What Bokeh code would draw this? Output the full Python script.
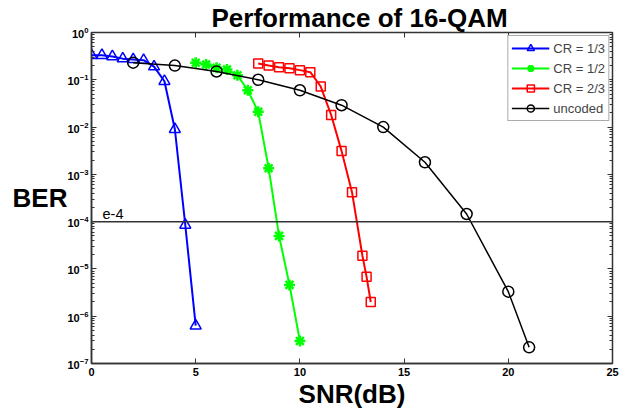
from bokeh.plotting import figure
from bokeh.models import (LinearAxis, LogAxis, Span, Label, Legend, LegendItem,
                          FixedTicker, LogTicker, Range1d, CustomJSTickFormatter)
from bokeh.embed import file_html
from bokeh.resources import INLINE

# ---- data ----
snr_13 = [0, 0.5, 1, 1.5, 2, 2.5, 3, 3.5, 4, 4.5, 5]
ber_13 = [0.33, 0.33, 0.31, 0.28, 0.27, 0.26, 0.19, 0.093, 0.009, 8.5e-5, 6.3e-7]

snr_12 = [5, 5.5, 6, 6.5, 7, 7.5, 8, 8.5, 9, 9.5, 10]
ber_12 = [0.23, 0.21, 0.18, 0.165, 0.125, 0.06, 0.021, 1.35e-3, 5e-5, 4.6e-6, 3e-7]

snr_23 = [8, 8.5, 9, 9.5, 10, 10.5, 11, 11.5, 12, 12.5, 13, 13.2, 13.4]
ber_23 = [0.22, 0.2, 0.185, 0.175, 0.16, 0.145, 0.072, 0.018, 3.1e-3, 4.2e-4, 1.9e-5, 6.8e-6, 2e-6]

snr_unc = [2, 4, 6, 8, 10, 12, 14, 16, 18, 20, 21]
ber_unc = [0.23, 0.2, 0.15, 0.1, 0.06, 0.029, 0.01, 1.8e-3, 1.45e-4, 3.3e-6, 2.2e-7]

x_ticks = [0, 5, 10, 15, 20, 25]
threshold = 1e-4
title_text = "Performance of 16-QAM"

p = figure(width=620, height=411, x_range=Range1d(0, 25), y_range=Range1d(1e-7, 1),
           y_axis_type="log", output_backend="svg", toolbar_location=None,
           min_border_left=91, min_border_right=8, min_border_top=32, min_border_bottom=41)
p.grid.visible = False
p.outline_line_color = "#333333"
p.outline_line_width = 1.5
p.background_fill_color = "white"
p.border_fill_color = "white"

# title
p.title.text = title_text
p.title.align = "left"
p.title.text_font = "Liberation Sans"
p.title.text_font_size = "26px"
p.title.text_font_style = "bold"
p.title.text_color = "black"
p.title.standoff = 0
p.title.offset = 120

# axes styling
xa = p.xaxis[0]
xa.ticker = FixedTicker(ticks=x_ticks)
xa.axis_label = "SNR(dB)"
ya = p.yaxis[0]
ya.ticker = LogTicker(num_minor_ticks=10)
for ax in (xa, ya):
    ax.major_tick_in = 5
    ax.major_tick_out = 0
    ax.minor_tick_in = 3
    ax.minor_tick_out = 0
    ax.axis_line_color = "#333333"
    ax.axis_line_width = 1.5
    ax.major_tick_line_color = "#333333"
    ax.minor_tick_line_color = "#333333"
    ax.major_label_text_font = "Liberation Sans"
    ax.major_label_text_font_style = "bold"
    ax.major_label_text_font_size = "11px"
    ax.major_label_text_color = "black"
    ax.axis_label_text_font = "Liberation Sans"
    ax.axis_label_text_font_style = "bold"
    ax.axis_label_text_font_size = "26px"
    ax.axis_label_text_color = "black"
xa.minor_tick_line_color = None
xa.axis_label_standoff = 0
xa.major_label_standoff = 4
ya.major_label_standoff = 3

use_axis_label = "axis_label_orientation" in ya.properties()
if use_axis_label:
    ya.axis_label = "BER"
    ya.axis_label_orientation = "horizontal"
    ya.axis_label_standoff = -3

top = LinearAxis(ticker=FixedTicker(ticks=x_ticks), major_tick_in=5, major_tick_out=0,
                 formatter=CustomJSTickFormatter(code="return ''"), axis_line_color="#333333",
                 major_tick_line_color="#333333",
                 minor_tick_line_color=None, major_label_standoff=0)
p.add_layout(top, "above")
right = LogAxis(ticker=LogTicker(num_minor_ticks=10), major_tick_in=5, major_tick_out=0,
                minor_tick_in=3, minor_tick_out=0, formatter=CustomJSTickFormatter(code="return ''"),
                axis_line_color="#333333", major_tick_line_color="#333333",
                minor_tick_line_color="#333333", major_label_standoff=0)
p.add_layout(right, "right")

# threshold line
p.add_layout(Span(location=threshold, dimension="width", line_color="#333333", line_width=1.5))
p.add_layout(Label(x=0.53, y=threshold * 1.12, text="e-4", text_font="Liberation Sans",
                   text_font_size="14.5px", text_color="black", text_baseline="bottom"))

# series
r1l = p.line(snr_13, ber_13, line_color="blue", line_width=2)
r1m = p.scatter(snr_13, ber_13, marker="triangle", size=11, fill_color=None,
                line_color="blue", line_width=1.5)
r2l = p.line(snr_12, ber_12, line_color="#00ff00", line_width=2)
r2m = p.scatter(snr_12, ber_12, marker="asterisk", size=11, line_color="#00ff00", line_width=2.5)
r3l = p.line(snr_23, ber_23, line_color="red", line_width=2)
r3m = p.scatter(snr_23, ber_23, marker="square", size=9, fill_color=None,
                line_color="red", line_width=1.5)
r4l = p.line(snr_unc, ber_unc, line_color="black", line_width=1.5)
r4m = p.scatter(snr_unc, ber_unc, marker="circle", size=11, fill_color=None,
                line_color="black", line_width=1.5)

legend = Legend(items=[
    LegendItem(label="CR = 1/3", renderers=[r1l, r1m]),
    LegendItem(label="CR = 1/2", renderers=[r2l, r2m]),
    LegendItem(label="CR = 2/3", renderers=[r3l, r3m]),
    LegendItem(label="uncoded", renderers=[r4l, r4m]),
], location="top_right")
legend.label_text_font = "Liberation Sans"
legend.label_text_font_size = "13px"
legend.glyph_width = 38
legend.glyph_height = 18
legend.spacing = 2
legend.padding = 3
legend.margin = 3
legend.border_line_color = "#555555"
legend.border_line_width = 1.5
legend.label_standoff = 4
p.add_layout(legend)

if not use_axis_label:
    p.add_layout(Label(x=14, y=200, x_units="canvas", y_units="canvas", text="BER",
                       text_font="Liberation Sans", text_font_size="26px",
                       text_font_style="bold", text_baseline="middle", text_color="black"))

open("out.html", "w").write(file_html(p, INLINE))
